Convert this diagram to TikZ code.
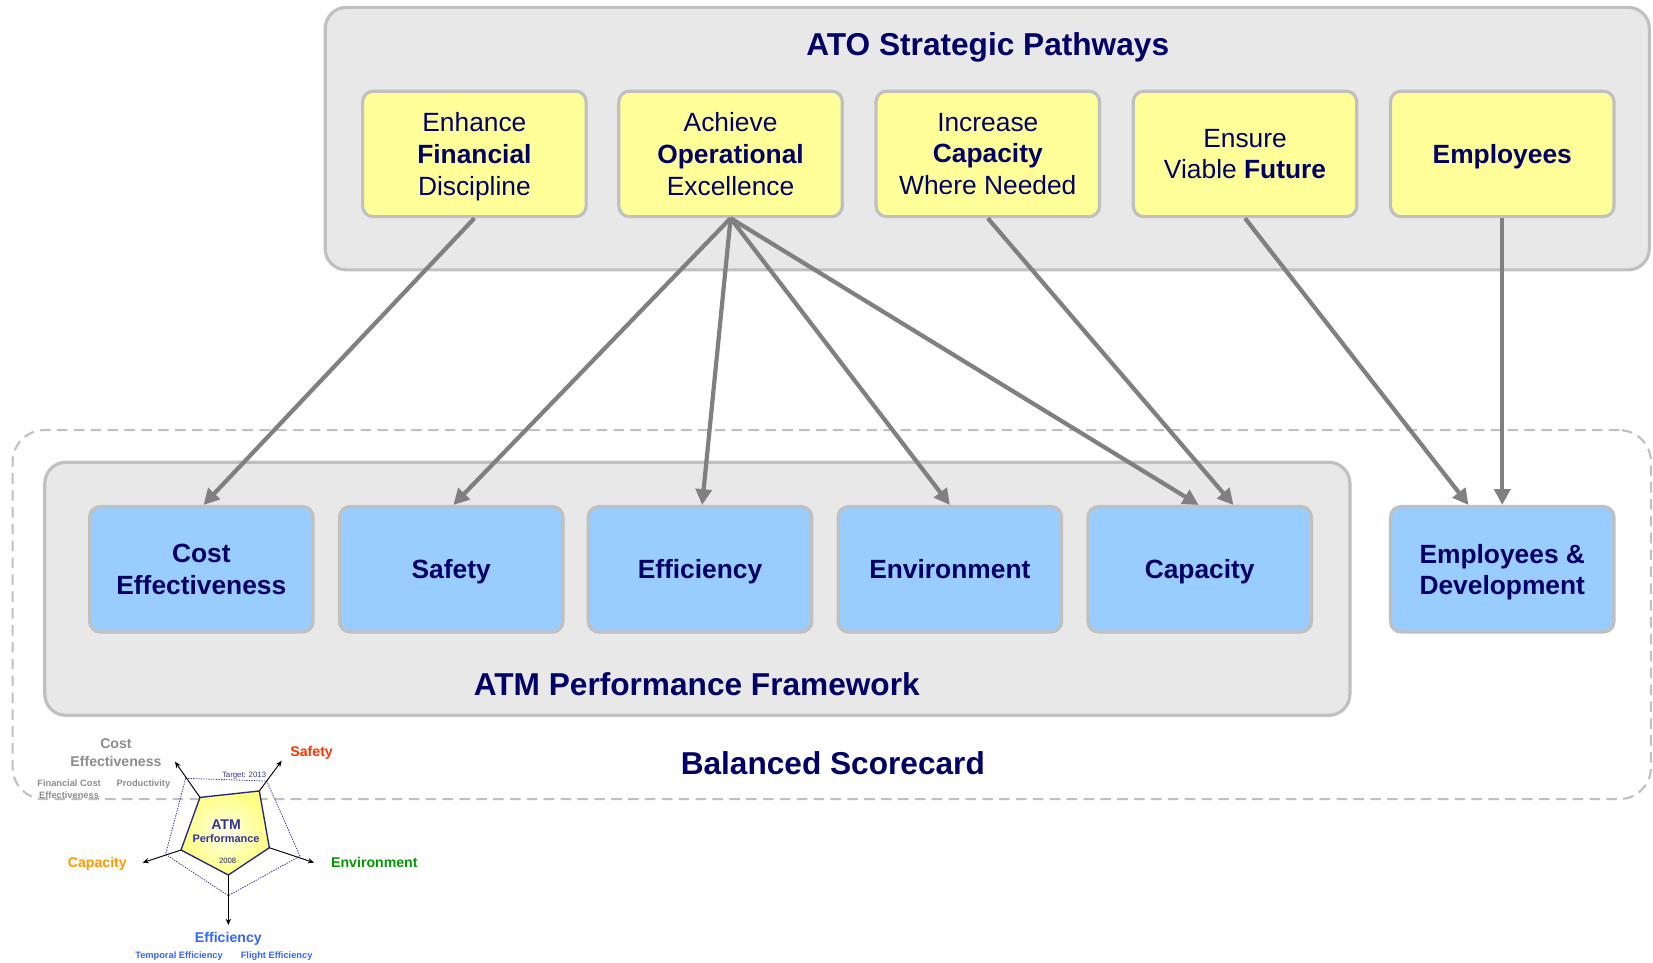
\documentclass[tikz,border=0pt]{standalone}
\usepackage{fontspec}
\setmainfont{Liberation Sans}
\usetikzlibrary{arrows.meta,calc}

\definecolor{navy}{HTML}{000066}
\definecolor{panelfill}{HTML}{E8E8E8}
\definecolor{panelline}{HTML}{C0C0C0}
\definecolor{goalfill}{HTML}{FFFF99}
\definecolor{kpafill}{HTML}{99CCFF}
\definecolor{linkgray}{HTML}{808080}
\definecolor{chartnavy}{HTML}{333399}
\definecolor{costgray}{HTML}{8C8C8C}
\definecolor{safetyred}{HTML}{FF3300}
\definecolor{caporange}{HTML}{FF9900}
\definecolor{envgreen}{HTML}{009900}
\definecolor{effblue}{HTML}{3366FF}

\tikzset{
  panel/.style={draw=panelline, fill=panelfill, line width=3pt,
    rounded corners=20pt, inner sep=0pt},
  goalbox/.style={draw=panelline, fill=goalfill, line width=3pt,
    rounded corners=10pt, minimum width=212pt, minimum height=119pt,
    align=center, text=navy, text depth=0pt,
    font=\fontsize{25}{30}\selectfont},
  kpabox/.style={draw=panelline, fill=kpafill, line width=3pt,
    rounded corners=10pt, minimum width=212pt, minimum height=119pt,
    align=center, text=navy, text depth=0pt,
    font=\bfseries\fontsize{25}{30}\selectfont},
  title/.style={text=navy, anchor=base, inner sep=0pt,
    font=\bfseries\fontsize{30}{36}\selectfont},
  link/.style={draw=linkgray, line width=4pt,
    -{Triangle[length=15pt,width=15pt]}},
  spoke/.style={draw=black, line width=0.9pt,
    -{Stealth[length=6pt,width=5pt]}},
  axislbl/.style={inner sep=0pt, anchor=base,
    font=\bfseries\fontsize{13.4}{16}\selectfont},
  sublbl/.style={inner sep=0pt, anchor=base, align=center,
    font=\bfseries\fontsize{8.8}{11.1}\selectfont},
}

\begin{document}
\begin{tikzpicture}[x=1pt,y=-1pt]
\useasboundingbox (0,0) rectangle (1568,913);

% balanced scorecard frame
\node[draw=panelline, dashed, dash pattern=on 10pt off 6pt, line width=2pt,
      rounded corners=30pt, minimum width=1554pt, minimum height=350pt,
      inner sep=0pt] (bsc) at (789,583) {};
\node[title] (bsctitle) at (790,734.8) {Balanced Scorecard};

% strategic pathways panel
\node[panel, minimum width=1256pt, minimum height=249pt] (ato) at (936.5,131.5) {};
\node[title] (atotitle) at (937,52.8) {ATO Strategic Pathways};

% ATM performance framework panel
\node[panel, minimum width=1238pt, minimum height=240pt] (atm) at (661.5,558.5) {};
\node[title] (atmtitle) at (661,659.8) {ATM Performance Framework};

% strategic pathways
\node[goalbox] (p1) at (450,146) {Enhance\\\textbf{Financial}\\Discipline};
\node[goalbox] (p2) at (693,146) {Achieve\\\textbf{Operational}\\Excellence};
\node[goalbox] (p3) at (937,146) {Increase\\\textbf{Capacity}\\Where Needed};
\node[goalbox] (p4) at (1181,146) {Ensure\\Viable \textbf{Future}};
\node[goalbox] (p5) at (1425,146) {\textbf{Employees}};

% key performance areas
\node[kpabox] (k1) at (191,540) {Cost\\Effectiveness};
\node[kpabox] (k2) at (428,540) {Safety};
\node[kpabox] (k3) at (664,540) {Efficiency};
\node[kpabox] (k4) at (901,540) {Environment};
\node[kpabox] (k5) at (1138,540) {Capacity};
\node[kpabox] (k6) at (1425,540) {Employees \&\\Development};

% pathway to performance area links
\draw[link] (p1.south) -- ([xshift=2pt]k1.north);
\draw[link] (p2.south) -- ([xshift=2pt]k2.north);
\draw[link] (p2.south) -- ([xshift=2pt]k3.north);
\draw[link] (p2.south) -- (k4.north);
\draw[link] (p2.south) -- ([xshift=-1pt]k5.north);
\draw[link] (p3.south) -- ([xshift=32pt]k5.north);
\draw[link] (p4.south) -- ([xshift=-32pt]k6.north);
\draw[link] (p5.south) -- (k6.north);

% ATM performance radar
\coordinate (i1) at (189.7,756.4);
\coordinate (i2) at (246.0,750.3);
\coordinate (i3) at (255.5,804.1);
\coordinate (i4) at (216.6,830.0);
\coordinate (i5) at (171.7,806.3);
\coordinate (t1) at (176.1,738.3);
\coordinate (t2) at (253.0,740.9);
\coordinate (t3) at (284.6,812.0);
\coordinate (t4) at (216.6,849.6);
\coordinate (t5) at (157.1,810.4);
\coordinate (o1) at (166.0,722.5);
\coordinate (o2) at (267.2,721.6);
\coordinate (o3) at (297.9,818.3);
\coordinate (o4) at (216.6,877.5);
\coordinate (o5) at (135.3,818.3);

\draw[chartnavy, line width=0.8pt, dash pattern=on 1.2pt off 1.2pt]
  (t1) -- (t2) -- (t3) -- (t4) -- (t5) -- cycle;
\shade[inner color=yellow!8, outer color=yellow!50]
  (i1) -- (i2) -- (i3) -- (i4) -- (i5) -- cycle;
\draw[chartnavy!80!black, line width=1.3pt, line join=round]
  (i1) -- (i2) -- (i3) -- (i4) -- (i5) -- cycle;
\foreach \k in {1,...,5} \draw[spoke] (i\k) -- (o\k);

\node[inner sep=0pt, anchor=base, text=chartnavy,
      font=\fontsize{7.4}{9}\selectfont] (tgt) at (231.5,737.8) {Target: 2013};
\node[inner sep=0pt, anchor=base, text=chartnavy,
      font=\bfseries\fontsize{13.4}{16}\selectfont] (atmlbl) at (214.4,786.8) {ATM};
\node[inner sep=0pt, anchor=base, text=chartnavy,
      font=\bfseries\fontsize{10.4}{12}\selectfont] (perflbl) at (214.4,799.6) {Performance};
\node[inner sep=0pt, anchor=base, text=chartnavy!60!black,
      font=\fontsize{7.3}{9}\selectfont] (yr) at (216,819) {2008};

\node[axislbl, text=costgray, align=center,
      font=\bfseries\fontsize{13.4}{17.4}\selectfont] (lcost) at (110,727.2) {Cost\\Effectiveness};
\node[sublbl, text=costgray] (lfin) at (65.5,757) {Financial Cost\\Effectiveness};
\node[sublbl, text=costgray] (lprod) at (136,745.6) {Productivity};
\node[axislbl, text=safetyred] (lsaf) at (295.6,717.8) {Safety};
\node[axislbl, text=caporange] (lcap) at (92.3,822.8) {Capacity};
\node[axislbl, text=envgreen] (lenv) at (355.1,822.8) {Environment};
\node[axislbl, text=effblue] (leff) at (216.6,894) {Efficiency};
\node[sublbl, text=effblue] (ltemp) at (169.8,909) {Temporal Efficiency};
\node[sublbl, text=effblue] (lflight) at (262.4,909) {Flight Efficiency};
\end{tikzpicture}
\end{document}
